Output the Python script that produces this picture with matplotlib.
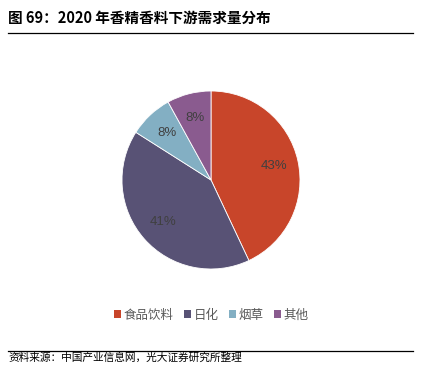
import matplotlib
matplotlib.use("Agg")
import numpy as np
import matplotlib.pyplot as plt
from matplotlib.lines import Line2D
from matplotlib.patches import Patch

plt.rcParams['font.family'] = ['Noto Sans CJK SC', 'DejaVu Sans']

# data
labels = ["食品饮料", "日化", "烟草", "其他"]
values = [43, 41, 8, 8]
colors = ["#C8452A", "#585275", "#83AFC3", "#8A5B8F"]

fig = plt.figure(figsize=(4.21, 3.78), dpi=100)

# pie
ax = fig.add_axes([(211 - 89) / 421, (378 - 269) / 378, 178 / 421, 178 / 378])
wedges, texts = ax.pie(values, colors=colors, startangle=90, counterclock=False,
                       wedgeprops=dict(edgecolor="white", linewidth=0.6))
for w, v in zip(wedges, values):
    ang = np.deg2rad((w.theta1 + w.theta2) / 2)
    ax.text(0.72 * np.cos(ang), 0.72 * np.sin(ang), "%d%%" % v,
            ha="center", va="center", fontsize=9.5, color="#404040",
            family="Liberation Sans")
ax.set_xlim(-1, 1)
ax.set_ylim(-1, 1)
ax.set_aspect("equal")

# title and rules
fig.text(8 / 421, 1 - 18 / 378, "图 69：2020 年香精香料下游需求量分布",
         fontsize=10.5, fontweight="bold", ha="left", va="center", color="black")
fig.add_artist(Line2D([8 / 421, 413 / 421], [1 - 33 / 378, 1 - 33 / 378],
                      color="black", linewidth=0.9))
fig.add_artist(Line2D([8 / 421, 413 / 421], [1 - 351 / 378, 1 - 351 / 378],
                      color="black", linewidth=0.9))
fig.text(8 / 421, 1 - 358 / 378, "资料来源：中国产业信息网，光大证券研究所整理",
         fontsize=7.7, ha="left", va="center", color="black")

# legend
handles = [Patch(facecolor=c, edgecolor="none") for c in colors]
leg = fig.legend(handles, labels, loc="center", bbox_to_anchor=(211 / 421, 1 - 315 / 378),
                 ncol=4, frameon=False, fontsize=9, handlelength=0.6, handleheight=0.6,
                 handletextpad=0.2, columnspacing=0.8, labelcolor="#595959")

fig.savefig("out.png", dpi=100)
